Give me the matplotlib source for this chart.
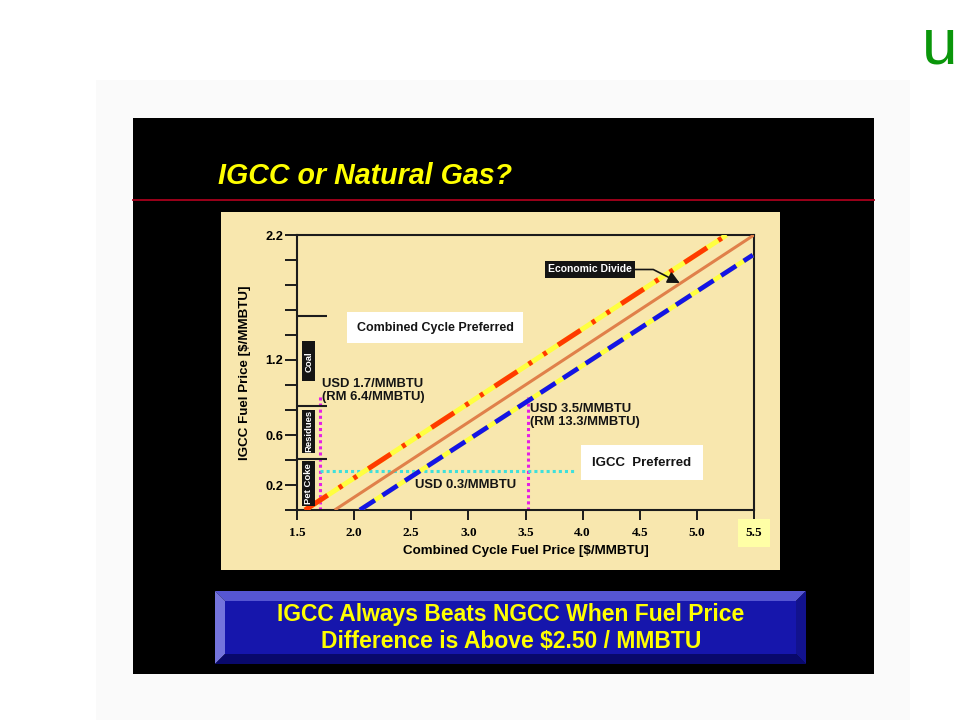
import numpy as np
import matplotlib
matplotlib.use("Agg")
import matplotlib.pyplot as plt
from matplotlib.patches import Rectangle, Polygon

SANS = ['Liberation Sans', 'DejaVu Sans']
SERIF = ['Liberation Serif', 'DejaVu Serif']
plt.rcParams['font.family'] = SANS

# ---- chart values ----
x_ticks = [1.5, 2.0, 2.5, 3.0, 3.5, 4.0, 4.5, 5.0, 5.5]
x_ticklabels = ['1.5', '2.0', '2.5', '3.0', '3.5', '4.0', '4.5', '5.0', '5.5']
y_ticks = [0.0, 0.2, 0.4, 0.6, 0.8, 1.0, 1.2, 1.4, 1.6, 1.8, 2.0, 2.2]
y_ticklabels = ['', '0.2', '', '0.6', '', '', '1.2', '', '', '', '', '2.2']

# three parallel price lines (start / end points)
upper_x = [1.57, 5.26]
upper_y = [0.0, 2.2]
divide_x = [1.83, 5.5]
divide_y = [0.0, 2.2]
lower_x = [2.05, 5.49]
lower_y = [0.0, 2.04]

# fuel bands on the IGCC axis
fuels = ['Pet Coke', 'Residues', 'Coal']
fuel_lo = [0.03, 0.46, 1.03]
fuel_hi = [0.39, 0.80, 1.35]
fuel_bounds = [0.41, 0.83, 1.55]

# reference prices
ref_x = [1.70, 3.52]
ref_top = [0.93, 0.92]
ref_text = ['USD 1.7/MMBTU\n(RM 6.4/MMBTU)', 'USD 3.5/MMBTU\n(RM 13.3/MMBTU)']
ref_text_y = [1.056, 0.856]
diff_y = 0.31
diff_x = [1.70, 3.94]
diff_text = 'USD 0.3/MMBTU'

fig = plt.figure(figsize=(9.6, 7.2), dpi=100)
fig.patch.set_facecolor('white')

# slide background in pixel coords
bg = fig.add_axes([0, 0, 1, 1])
bg.set_xlim(0, 960)
bg.set_ylim(720, 0)
bg.axis('off')
bg.add_patch(Rectangle((96, 80), 814, 640, color='#fafafa', lw=0))
bg.add_patch(Rectangle((133, 118), 741, 556, color='black', lw=0))
bg.plot([133, 874], [200, 200], color='#a8001c', lw=1.3)
bg.add_patch(Rectangle((221, 212), 559, 358, color='#f8e7ae', lw=0))
bg.text(218, 176, 'IGCC or Natural Gas?', color='#ffff00', fontsize=20.6,
        fontweight='bold', fontstyle='italic', va='center', ha='left')
bg.text(940, 47, 'u', color='#0a960a', fontsize=46, ha='center', va='center')

# bevelled banner
o = (215, 591, 806, 664)
b = 10
bg.add_patch(Rectangle((o[0] + b, o[1] + b), o[2] - o[0] - 2 * b, o[3] - o[1] - 2 * b, color='#1616ac', lw=0))
bg.add_patch(Polygon([(o[0], o[1]), (o[2], o[1]), (o[2] - b, o[1] + b), (o[0] + b, o[1] + b)], color='#5656d2', lw=0))
bg.add_patch(Polygon([(o[0], o[1]), (o[0] + b, o[1] + b), (o[0] + b, o[3] - b), (o[0], o[3])], color='#7474dc', lw=0))
bg.add_patch(Polygon([(o[0], o[3]), (o[0] + b, o[3] - b), (o[2] - b, o[3] - b), (o[2], o[3])], color='#09096c', lw=0))
bg.add_patch(Polygon([(o[2], o[1]), (o[2], o[3]), (o[2] - b, o[3] - b), (o[2] - b, o[1] + b)], color='#12128e', lw=0))
bg.text(511, 615, 'IGCC Always Beats NGCC When Fuel Price', color='#ffff00', fontsize=16.5,
        fontweight='bold', ha='center', va='center')
bg.text(511, 641, 'Difference is Above $2.50 / MMBTU', color='#ffff00', fontsize=16.5,
        fontweight='bold', ha='center', va='center')

# ---- the chart ----
ax = fig.add_axes([297 / 960, 1 - 510 / 720, 457 / 960, 275 / 720])
ax.set_facecolor('none')
ax.set_xlim(1.5, 5.5)
ax.set_ylim(0, 2.2)
for s in ax.spines.values():
    s.set_linewidth(1.5)
    s.set_color('#1c1c1c')

ax.set_xticks(x_ticks)
ax.set_xticklabels(x_ticklabels, fontsize=9.5, fontweight='bold', family=SERIF)
ax.set_yticks(y_ticks)
ax.set_yticklabels(y_ticklabels, fontsize=9.2, fontweight='bold')
ax.tick_params(axis='x', direction='out', length=7, width=1.4, pad=5, color='#1c1c1c')
ax.tick_params(axis='y', direction='out', length=8.5, width=1.4, pad=1.5, color='#1c1c1c')
ax.get_xticklabels()[-1].set_bbox(dict(boxstyle='square,pad=0.6', fc='#ffffa6', ec='none'))

ax.set_xlabel('Combined Cycle Fuel Price [$/MMBTU]', fontsize=9.6, fontweight='bold', va='center')
ax.set_ylabel('IGCC Fuel Price [$/MMBTU]', fontsize=9.6, fontweight='bold', va='center')
ax.xaxis.set_label_coords(0.5, -0.149)
ax.yaxis.set_label_coords(-0.114, 0.5)

# reference guides
for xv, top in zip(ref_x, ref_top):
    ax.plot([xv, xv], [0, top], color='#e61ee6', lw=2.2, ls=(0, (1, 1)), zorder=2)
ax.plot(diff_x, [diff_y, diff_y], color='#3ee0dc', lw=2.2, ls=(0, (1, 1)), zorder=2)

# price lines
ax.plot(upper_x, upper_y, color='#ffff40', lw=3.6, zorder=3, solid_capstyle='butt')
ax.plot(upper_x, upper_y, color='#ff3a00', lw=3.6, zorder=4,
        ls=(0, (5.4, 2.7, 0.8, 2.7, 0.8, 2.7)))
ax.plot(divide_x, divide_y, color='#e0804a', lw=2.2, zorder=4, solid_capstyle='butt')
ax.plot(lower_x, lower_y, color='#ffff40', lw=3.4, zorder=3, solid_capstyle='butt')
ax.plot(lower_x, lower_y, color='#1414e6', lw=3.4, zorder=4, ls=(0, (3.8, 1.9)))

# fuel bands
ax.hlines(fuel_bounds, 1.5, 1.765, color='#1c1c1c', lw=1.5, clip_on=False)
for name, lo, hi in zip(fuels, fuel_lo, fuel_hi):
    ax.add_patch(Rectangle((1.548, lo), 0.11, hi - lo, color='#141414', lw=0, zorder=5))
    ax.text(1.603, (lo + hi) / 2, name, rotation=90, color='white', fontsize=6.8,
            fontweight='bold', ha='center', va='center', zorder=6)

# annotations
for xv, ty, txt in zip(ref_x, ref_text_y, ref_text):
    ax.text(xv + 0.02, ty, txt, fontsize=9.4, fontweight='bold',
            color='#141414', ha='left', va='top', linespacing=1.1, zorder=6)
ax.text(2.53, 0.2, diff_text, fontsize=9.4, fontweight='bold',
        color='#141414', ha='left', va='center', zorder=6)

ax.text(2.71, 1.46, 'Combined Cycle Preferred', fontsize=9, fontweight='bold', color='#141414',
        ha='center', va='center', zorder=6,
        bbox=dict(boxstyle='square,pad=0.75', fc='white', ec='none'))
ax.text(4.52, 0.38, 'IGCC  Preferred', fontsize=9.5, fontweight='bold', color='#141414',
        ha='center', va='center', zorder=6,
        bbox=dict(boxstyle='square,pad=0.85', fc='white', ec='none'))
ax.annotate('Economic Divide', xy=(4.85, 1.816), xytext=(4.066, 1.924),
            fontsize=7.5, fontweight='bold', color='white', ha='center', va='center', zorder=7,
            bbox=dict(boxstyle='square,pad=0.3', fc='#141414', ec='none'),
            arrowprops=dict(arrowstyle='-|>', color='#141414', lw=1.2, mutation_scale=18,
                            shrinkA=0, shrinkB=0,
                            connectionstyle='angle,angleA=0,angleB=153,rad=0'))

fig.savefig('out.png', dpi=100)
